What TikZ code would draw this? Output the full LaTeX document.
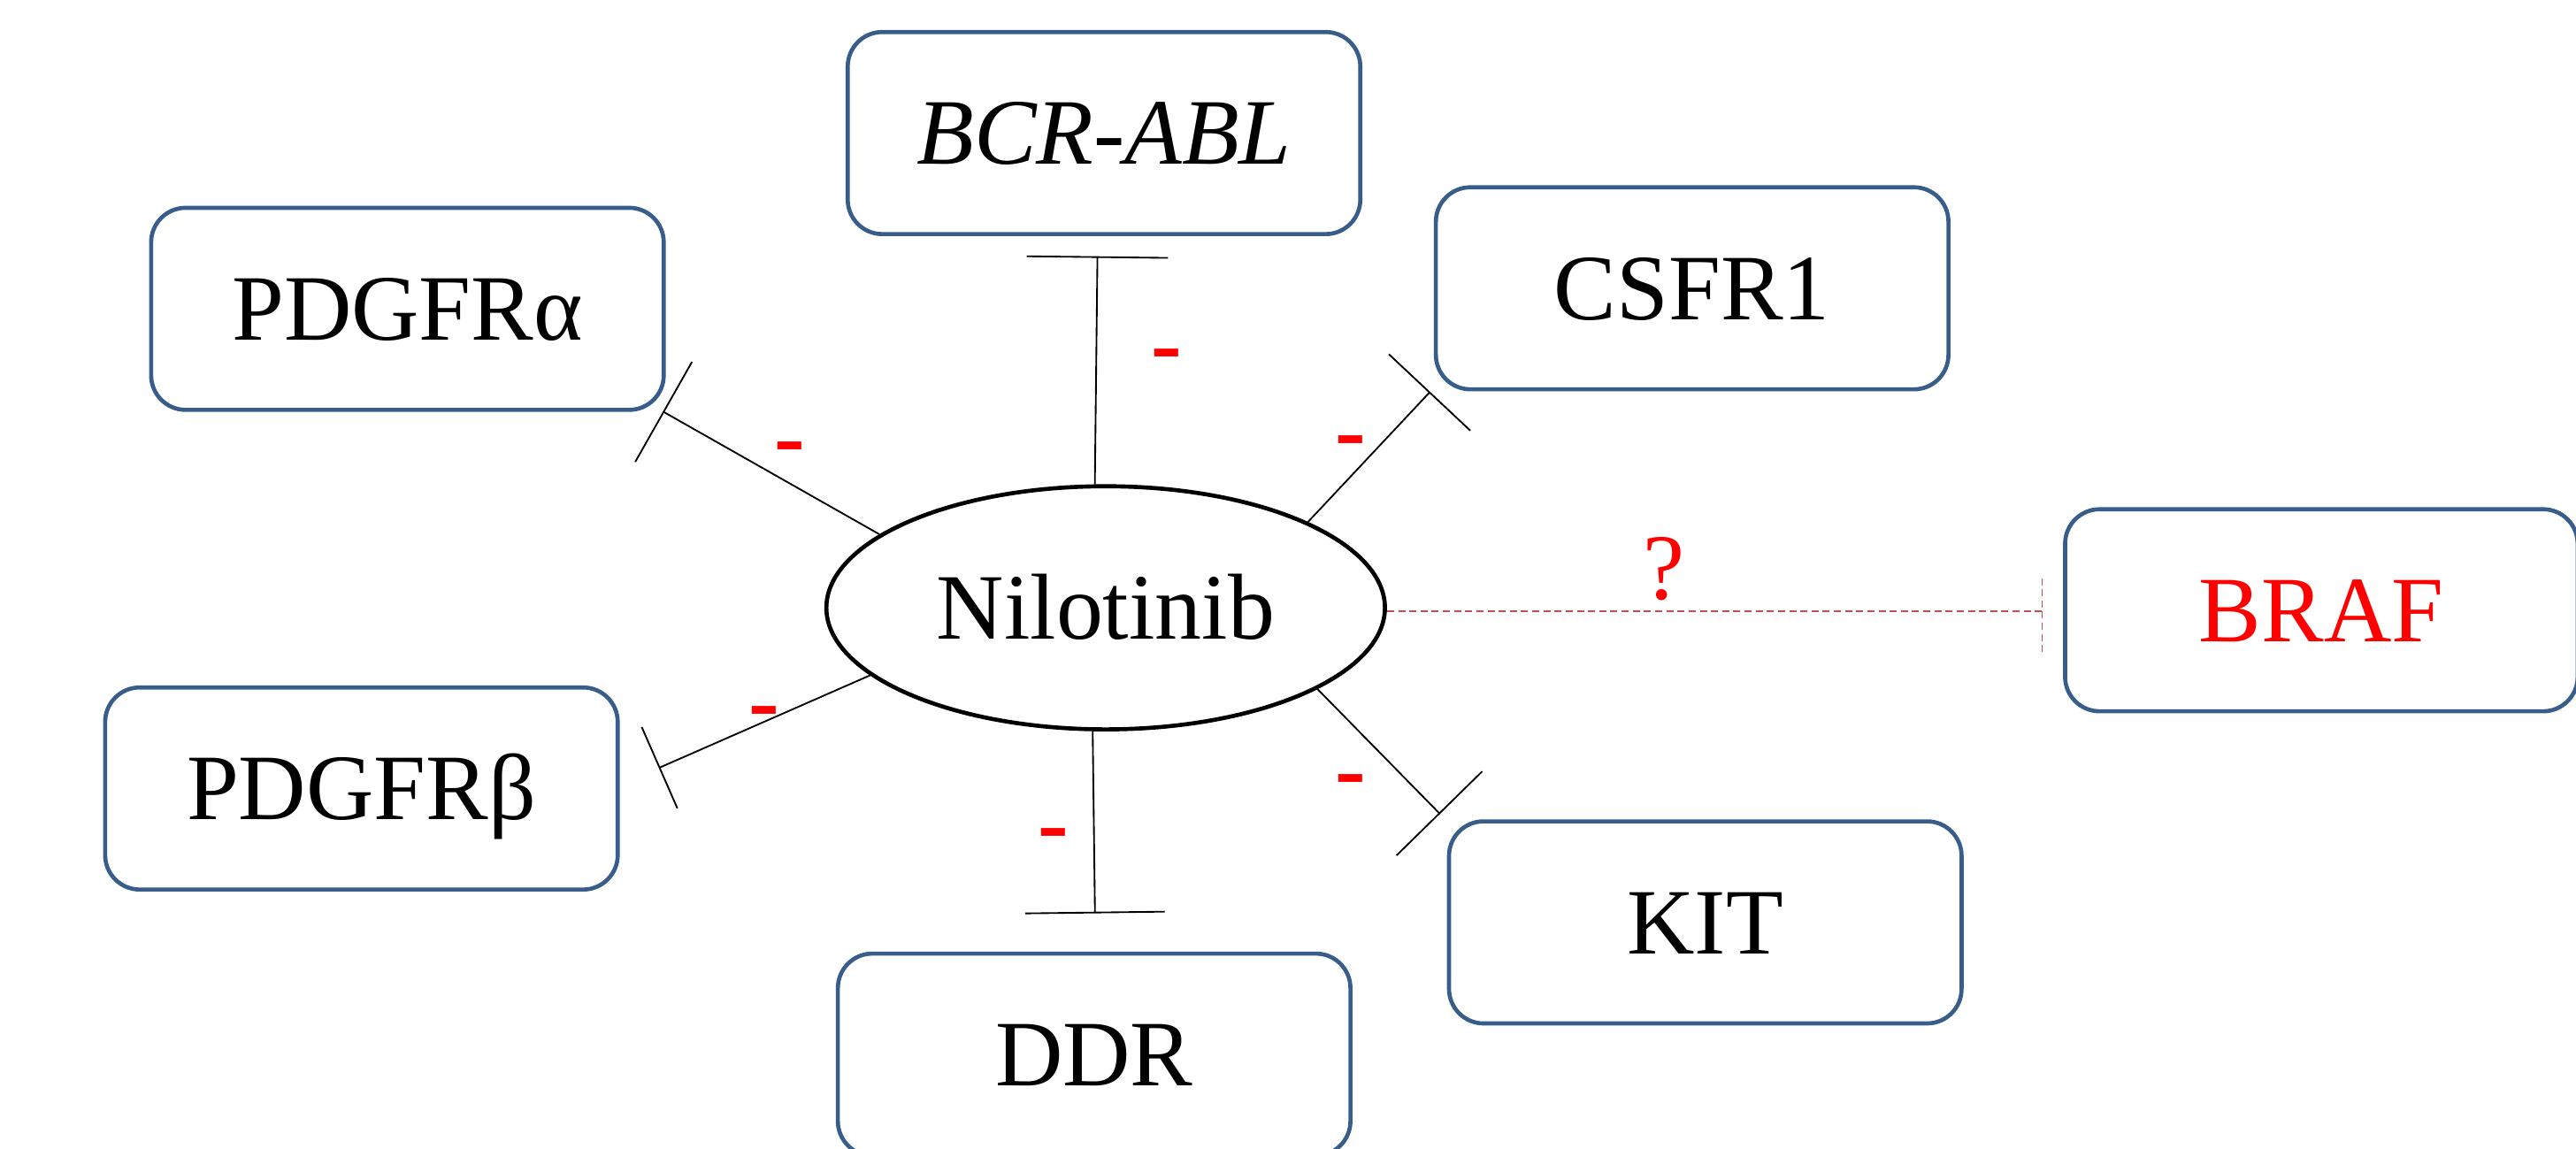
\documentclass[tikz,border=0pt]{standalone}
\usepackage{fontspec}
\setmainfont{Liberation Serif}
\usetikzlibrary{arrows.meta,shapes.geometric}
\definecolor{boxblue}{RGB}{56,93,138}
\definecolor{dashred}{RGB}{192,80,77}
\begin{document}
\begin{tikzpicture}[x=1pt,y=-1pt,
  lbl/.style={font=\fontsize{57}{60}\selectfont, text height=38pt, text depth=0pt, inner sep=0pt},
  target/.style={lbl, draw=boxblue, line width=2.5pt, rounded corners=21pt, minimum width=312pt, minimum height=123pt},
  drug/.style={lbl, ellipse, draw=black, line width=2.5pt, minimum width=340pt, minimum height=148pt},
  inhib/.style={line width=1pt},
  minus/.style={text=red, font=\fontsize{56}{56}\selectfont\bfseries, inner sep=0pt},
]
\useasboundingbox (0,0) rectangle (1568,699);

% nodes
\node[drug] (nil) at (673,370) {Nilotinib};
\node[target] (bcr) at (672,81) {\itshape BCR-ABL};
\node[target] (pdga) at (248,188) {PDGFRα};
\node[target] (csfr) at (1030,175.5) {CSFR1};
\node[target, text=red] (braf) at (1413,371.5) {BRAF};
\node[target] (pdgb) at (220,480) {PDGFRβ};
\node[target] (kit) at (1038,561.5) {KIT};
\node[target] (ddr) at (666,642) {DDR};

% bar end points
\coordinate (bcrT) at (668,156);
\coordinate (csfrT) at (870.5,238.5);
\coordinate (pdgaT) at (403.5,250.5);
\coordinate (pdgbT) at (401,467.5);
\coordinate (ddrT) at (666.5,556);
\coordinate (kitT) at (876.5,495.5);
\coordinate (brafT) at (1243,372);

% inhibition connectors
\draw[inhib, -{Bar[width=86pt]}] (nil.95.4) -- (bcrT);
\draw[inhib, -{Bar[width=68pt]}] (nil.23.4) -- (csfrT);
\draw[inhib, -{Bar[width=70pt]}] (nil.162.6) -- (pdgaT);
\draw[inhib, -{Bar[width=54pt]}] (nil.196.5) -- (pdgbT);
\draw[inhib, -{Bar[width=85pt]}] (nil.264.6) -- (ddrT);
\draw[inhib, -{Bar[width=73pt]}] (nil.-21.5) -- (kitT);

% uncertain BRAF link
\draw[dashred, line width=1pt, dash pattern=on 4.3pt off 2.5pt] (nil.east |- brafT) -- (brafT);
\draw[dashred, line width=1pt, dash pattern=on 4.3pt off 2.5pt] ([yshift=-25pt]brafT) -- ([yshift=22pt]brafT);
\node[text=red, font=\fontsize{57}{60}\selectfont, inner sep=0pt, anchor=base] (q) at (1013,365) {?};

% minus signs
\node[minus] (m1) at (710,220) {-};
\node[minus] (m2) at (822,273) {-};
\node[minus] (m3) at (481,277) {-};
\node[minus] (m4) at (465,438) {-};
\node[minus] (m5) at (822,479) {-};
\node[minus] (m6) at (641,512) {-};
\end{tikzpicture}
\end{document}
